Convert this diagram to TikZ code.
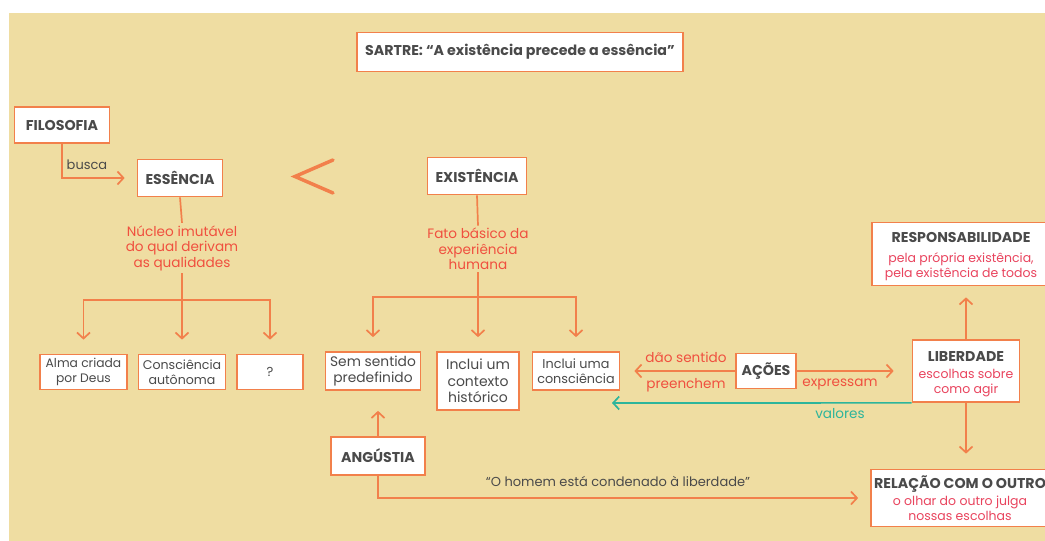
\documentclass[tikz,border=0pt]{standalone}
\usepackage{fontspec}
\setmainfont{Poppins}
\usetikzlibrary{arrows.meta,calc}
\definecolor{beige}{HTML}{EFDDA2}
\definecolor{lineor}{HTML}{F2804B}
\definecolor{redtx}{HTML}{F0503F}
\definecolor{pinktx}{HTML}{E9445E}
\definecolor{greytx}{HTML}{4A4A4A}
\definecolor{tealc}{HTML}{2DB59B}
\newcommand{\pk}[1]{{\color{pinktx}\mdseries\fontsize{12.5}{15}\selectfont #1}}
\tikzset{
  box/.style={draw=lineor, line width=1.7pt, fill=white, inner sep=2pt, align=center,
    text=greytx, font=\bfseries\fontsize{14.2}{16}\selectfont},
  dbox/.style={box, font=\bfseries\fontsize{14.2}{15}\selectfont},
  sbox/.style={box, font=\fontsize{13}{16}\selectfont},
  link/.style={draw=lineor, line width=1.7pt},
  arr/.style={link, -{Straight Barb[length=6pt,width=13pt]}},
  tarr/.style={draw=tealc, line width=1.7pt, -{Straight Barb[length=6pt,width=13pt]}},
  redt/.style={text=redtx, align=center, font=\fontsize{13.6}{15.5}\selectfont},
  lbl/.style={text=greytx, font=\fontsize{13}{15}\selectfont},
}
\begin{document}
\begin{tikzpicture}[x=1pt,y=-1pt]
\useasboundingbox (0,0) rectangle (1045,541);
\fill[white] (0,0) rectangle (1045,541);
\fill[beige] (9,13) rectangle (1045,541);

% title
\node[box, minimum width=326pt, minimum height=39pt] (title) at (520,52) {SARTRE: “A existência precede a essência”};

% left branch
\node[box, minimum width=95pt, minimum height=36pt] (filo) at (62,125) {FILOSOFIA};
\node[box, minimum width=85pt, minimum height=37pt] (ess) at (180,178) {ESSÊNCIA};
\node[lbl] (busca) at (87,165) {busca};
\draw[arr, shorten >=12pt] (filo.south) |- (ess.west);

\draw[lineor, line width=3.5pt, line cap=round, line join=miter] (333,160) -- (295,176.5) -- (333,193);

\node[redt] (nucleo) at (182,248) {Núcleo imutável\\do qual derivam\\as qualidades};
\draw[link] (ess.south) -- ($(nucleo.north)+(0,1)$);
\coordinate (b1) at (182,300);
\draw[link] ($(nucleo.south)+(0,-1)$) -- (b1);

\node[sbox, minimum width=87pt, minimum height=35pt, font=\fontsize{12.3}{15}\selectfont] (alma) at (83.5,372) {Alma criada\\por Deus};
\node[sbox, minimum width=87pt, minimum height=35pt, font=\fontsize{12.6}{15}\selectfont] (consc) at (182,372) {Consciência\\autônoma};
\node[sbox, minimum width=66pt, minimum height=35pt] (q) at (270,372) {?};
\draw[arr, shorten >=14pt] (b1) -| (alma.north);
\draw[arr, shorten >=14pt] (b1) -- (consc.north);
\draw[arr, shorten >=14pt] (b1) -| (q.north);

% middle branch
\node[box, minimum width=99pt, minimum height=37pt] (exi) at (477,176) {EXISTÊNCIA};
\node[redt] (fato) at (478,249) {Fato básico da\\experiência\\humana};
\draw[link] (exi.south) -- ($(fato.north)+(0,1)$);
\coordinate (b2) at (478,297);
\draw[link] ($(fato.south)+(0,-1)$) -- (b2);

\node[sbox, minimum width=95pt, minimum height=38pt, font=\fontsize{13.8}{16}\selectfont] (sem) at (373,371) {Sem sentido\\predefinido};
\node[sbox, minimum width=82pt, minimum height=58pt, font=\fontsize{14}{16.5}\selectfont] (inc1) at (478,381) {Inclui um\\contexto\\histórico};
\node[sbox, minimum width=87pt, minimum height=38pt, font=\fontsize{12.8}{15}\selectfont] (inc2) at (576,371) {Inclui uma\\consciência};
\draw[arr, shorten >=14pt] (b2) -| (sem.north);
\draw[arr, shorten >=14pt] (b2) -- (inc1.north);
\draw[arr, shorten >=14pt] (b2) -| (inc2.north);

\node[box, minimum width=94pt, minimum height=38pt] (ang) at (378,456) {ANGÚSTIA};
\draw[arr, shorten >=20pt] (ang.north) -- (ang.north |- sem.south);

% right part
\node[box, minimum width=60pt, minimum height=35pt] (acoes) at (766,371) {AÇÕES};
\node[dbox, minimum width=107pt, minimum height=62pt] (lib) at (966,371) {\rule{0pt}{16pt}LIBERDADE\\[2pt]\pk{escolhas sobre}\\\pk{como agir}};
\node[dbox, minimum width=178pt, minimum height=63pt] (resp) at (961,254) {\rule{0pt}{16pt}RESPONSABILIDADE\\[5pt]\pk{pela própria existência,}\\\pk{pela existência de todos}};
\node[dbox, minimum width=178pt, minimum height=57pt] (rel) at (960,498) {RELAÇÃO COM O OUTRO\\[2pt]\pk{o olhar do outro julga}\\\pk{nossas escolhas}};

\draw[arr, shorten >=14pt] (acoes.west) -- (inc2.east);
\draw[arr, shorten >=18pt] (acoes.east) -- (lib.west);
\node[redt] (dao) at (686,357) {dão sentido};
\node[redt] (pre) at (686,385) {preenchem};
\node[redt] (exp) at (840,384) {expressam};

\coordinate (valend) at (612,403);
\draw[tarr] (lib.south west) -- (valend);
\node[text=tealc, font=\fontsize{13.6}{15}\selectfont] (val) at (840,414) {valores};

\draw[arr, shorten >=11pt] (lib.north) -- (lib.north |- resp.south);
\draw[arr, shorten >=15pt] (lib.south) -- (lib.south |- rel.north);

\draw[arr, shorten >=12pt] (ang.south) |- (rel.west);
\node[lbl] (quote) at (618,481) {“O homem está condenado à liberdade”};
\end{tikzpicture}
\end{document}
